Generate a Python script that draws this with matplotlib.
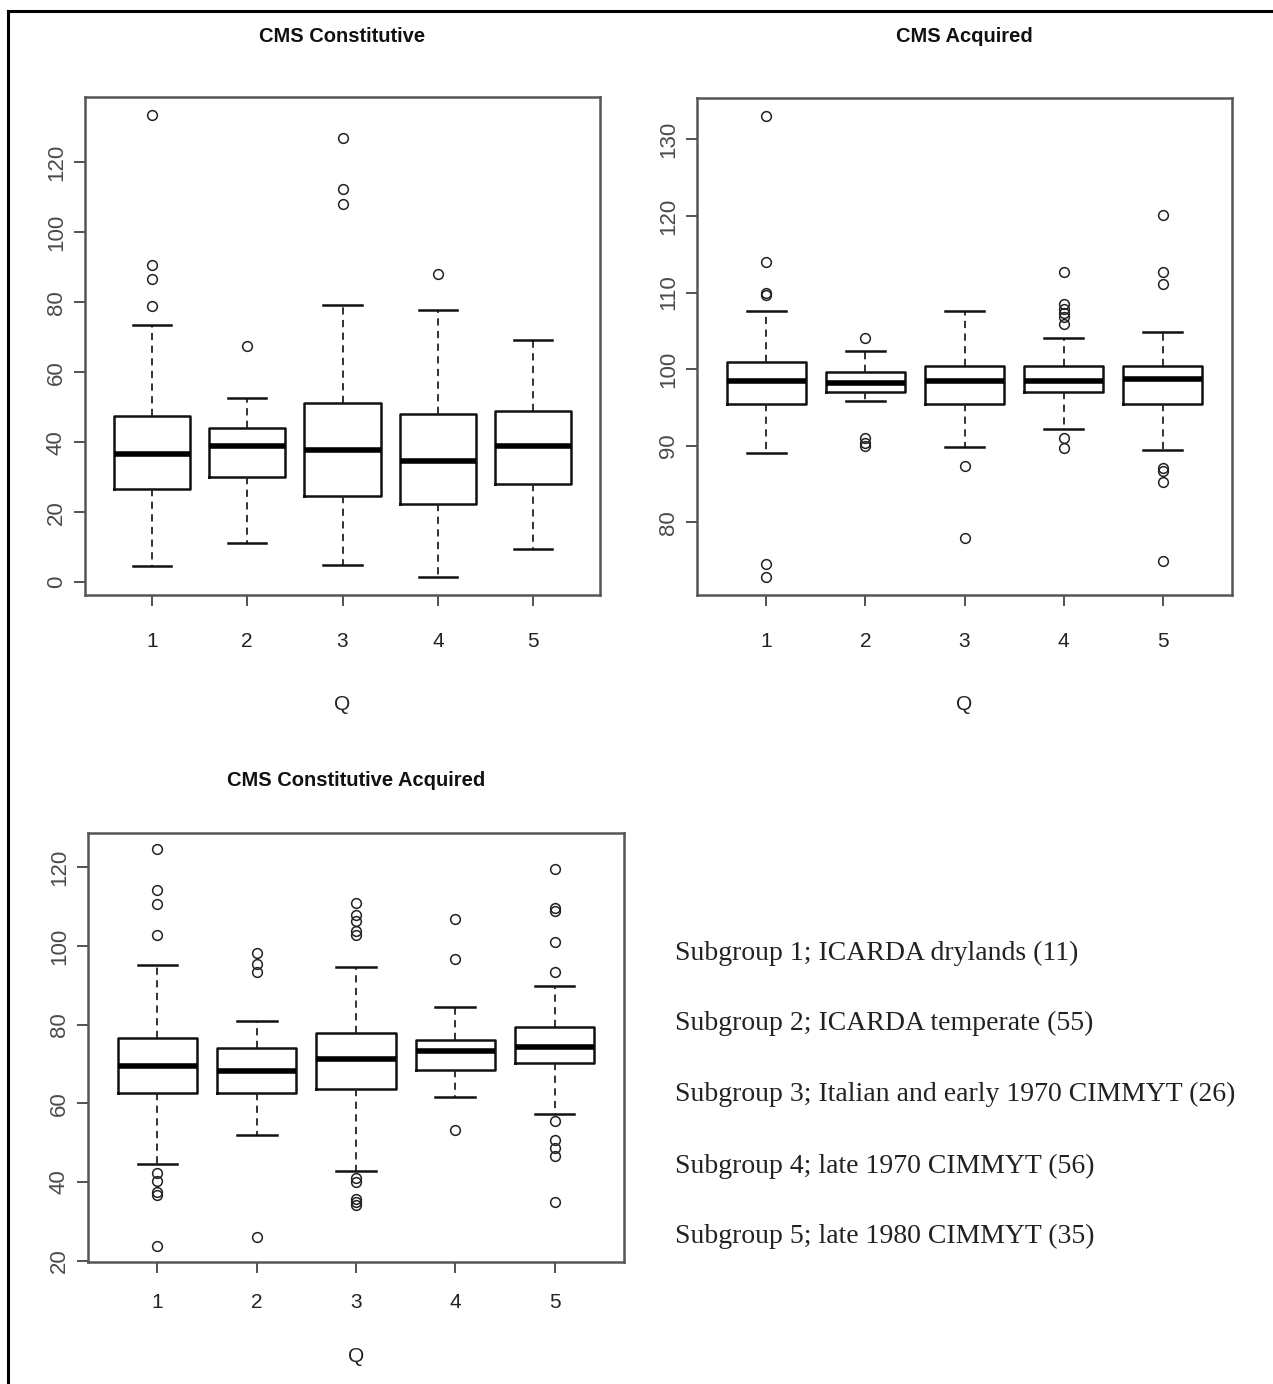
import matplotlib
matplotlib.use("Agg")
import matplotlib.pyplot as plt
from matplotlib.lines import Line2D

# ---------------- data ----------------
groups = [1, 2, 3, 4, 5]
group_labels = ["1", "2", "3", "4", "5"]

titles = ["CMS Constitutive", "CMS Acquired", "CMS Constitutive Acquired"]
xlabel = "Q"

# CMS Constitutive
c_q1 = [26.6, 30.0, 24.5, 22.3, 28.0]
c_med = [36.5, 38.8, 37.9, 34.6, 38.8]
c_q3 = [47.4, 44.1, 51.1, 48.2, 49.0]
c_lo = [4.5, 11.1, 5.0, 1.6, 9.6]
c_hi = [73.5, 52.5, 79.1, 77.8, 69.3]
c_out = [[133.4, 90.6, 86.6, 79.0], [67.4], [126.9, 112.4, 108.2], [88.0], []]
c_yticks = [0, 20, 40, 60, 80, 100, 120]

# CMS Acquired
a_q1 = [95.5, 97.0, 95.5, 97.0, 95.5]
a_med = [98.5, 98.2, 98.5, 98.5, 98.7]
a_q3 = [100.9, 99.6, 100.4, 100.4, 100.4]
a_lo = [89.0, 95.8, 89.8, 92.2, 89.4]
a_hi = [107.6, 102.4, 107.6, 104.1, 104.8]
a_out = [[133.0, 114.0, 110.0, 109.7, 74.5, 72.9],
         [104.1, 91.0, 90.4, 90.0],
         [87.4, 77.9],
         [112.7, 108.5, 107.9, 107.3, 106.8, 105.9, 91.0, 89.7],
         [120.1, 112.7, 111.1, 87.1, 86.7, 85.3, 74.9]]
a_yticks = [80, 90, 100, 110, 120, 130]

# CMS Constitutive Acquired
ca_q1 = [62.7, 62.6, 63.6, 68.6, 70.3]
ca_med = [69.4, 68.3, 71.3, 73.2, 74.4]
ca_q3 = [76.6, 74.0, 77.9, 76.2, 79.4]
ca_lo = [44.6, 51.9, 42.8, 61.6, 57.4]
ca_hi = [95.2, 80.9, 94.6, 84.5, 89.9]
ca_out = [[124.7, 114.3, 110.6, 102.9, 42.2, 40.3, 37.5, 36.7, 23.7],
          [98.2, 95.4, 93.5, 26.0],
          [111.0, 108.0, 106.3, 103.8, 102.9, 41.1, 40.1, 35.8, 35.0, 34.1],
          [106.8, 96.7, 53.3],
          [119.7, 109.7, 108.9, 101.0, 93.5, 55.5, 50.8, 48.6, 46.5, 35.0]]
ca_yticks = [20, 40, 60, 80, 100, 120]

legend_lines = [
    "Subgroup 1; ICARDA drylands (11)",
    "Subgroup 2; ICARDA temperate (55)",
    "Subgroup 3; Italian and early 1970 CIMMYT (26)",
    "Subgroup 4; late 1970 CIMMYT (56)",
    "Subgroup 5; late 1980 CIMMYT (35)",
]

# ---------------- figure ----------------
W, H = 1273, 1384
fig = plt.figure(figsize=(W / 100, H / 100), dpi=100)
fig.patch.set_facecolor("white")

SANS_N = ["Liberation Sans Narrow", "Liberation Sans", "DejaVu Sans"]
SANS = ["Liberation Sans", "DejaVu Sans"]
SERIF = ["Liberation Serif", "DejaVu Serif"]


def px_axes(left, top, right, bottom):
    return [left / W, 1 - bottom / H, (right - left) / W, (bottom - top) / H]


def make_stats(q1, med, q3, lo, hi, out):
    stats = []
    for i in range(len(q1)):
        stats.append(dict(q1=q1[i], med=med[i], q3=q3[i],
                          whislo=lo[i], whishi=hi[i], fliers=out[i]))
    return stats


def draw_panel(rect, q1, med, q3, lo, hi, out, yticks, xlab_px, ticklab_pad):
    ax = fig.add_axes(rect)
    stats = make_stats(q1, med, q3, lo, hi, out)
    ax.bxp(stats, positions=groups, widths=0.8, capwidths=0.4,
           showfliers=True, manage_ticks=False,
           boxprops=dict(color="#111111", linewidth=1.8),
           whiskerprops=dict(color="#222222", linewidth=1.3, linestyle=(0, (4, 3))),
           capprops=dict(color="#111111", linewidth=1.8),
           medianprops=dict(color="black", linewidth=4.0),
           flierprops=dict(marker="o", markerfacecolor="none",
                           markeredgecolor="#222222", markersize=7,
                           markeredgewidth=1.1, linestyle="none"))
    allv = lo + hi + [v for o in out for v in o]
    lo_v, hi_v = min(allv), max(allv)
    r = hi_v - lo_v
    ax.set_ylim(lo_v - 0.04 * r, hi_v + 0.04 * r)
    ax.set_xlim(0.3, 5.7)
    ax.set_xticks(groups)
    ax.set_xticklabels(group_labels, family=SANS_N, fontsize=15, color="#222222")
    ax.set_yticks(yticks)
    ax.set_yticklabels([str(t) for t in yticks], family=SANS, fontsize=16,
                       color="#4a4a4a", rotation=90, va="center")
    ax.tick_params(axis="x", length=8, width=1.3, color="#444444", pad=ticklab_pad)
    ax.tick_params(axis="y", length=8, width=1.3, color="#444444", pad=5)
    for s in ax.spines.values():
        s.set_color("#555555")
        s.set_linewidth(1.8)
    ax.set_xlabel(xlabel, family=SANS_N, fontsize=15, color="#222222", va="center")
    bottom_px = (1 - rect[1]) * H
    ax.xaxis.set_label_coords(0.5, -(xlab_px - bottom_px) / (rect[3] * H))
    return ax


ax1 = draw_panel(px_axes(85, 97, 600, 595), c_q1, c_med, c_q3, c_lo, c_hi, c_out,
                 c_yticks, 705, 19)
ax2 = draw_panel(px_axes(697, 98, 1232, 595), a_q1, a_med, a_q3, a_lo, a_hi, a_out,
                 a_yticks, 705, 19)
ax3 = draw_panel(px_axes(88, 833, 624, 1262), ca_q1, ca_med, ca_q3, ca_lo, ca_hi, ca_out,
                 ca_yticks, 1356, 14)

renderer = fig.canvas.get_renderer()

# titles
title_y = [37, 37, 780]
for ax, title, ty in zip([ax1, ax2, ax3], titles, title_y):
    pos = ax.get_position()
    xc = pos.x0 + pos.width / 2
    fig.text(xc, 1 - ty / H, title, family=SANS_N, fontsize=14.5,
             fontweight="bold", ha="center", va="center", color="#111111")

# legend text block
leg_y = [953, 1023, 1094, 1166, 1236]
texts = []
for s, y in zip(legend_lines, leg_y):
    texts.append(fig.text(675 / W, 1 - y / H, s, family=SERIF, fontsize=24,
                          ha="left", va="center", color="#222222"))
wid = texts[2].get_window_extent(renderer).width
scale = 562.0 / wid
for t in texts:
    t.set_fontsize(24 * scale)

# outer frame (top and left border)
fig.add_artist(Line2D([8 / W, 8 / W], [0, 1 - 11 / H], transform=fig.transFigure,
                      color="black", linewidth=2.2))
fig.add_artist(Line2D([8 / W, 1], [1 - 11 / H, 1 - 11 / H], transform=fig.transFigure,
                      color="black", linewidth=2.2))

fig.savefig("out.png", dpi=100, facecolor="white")
